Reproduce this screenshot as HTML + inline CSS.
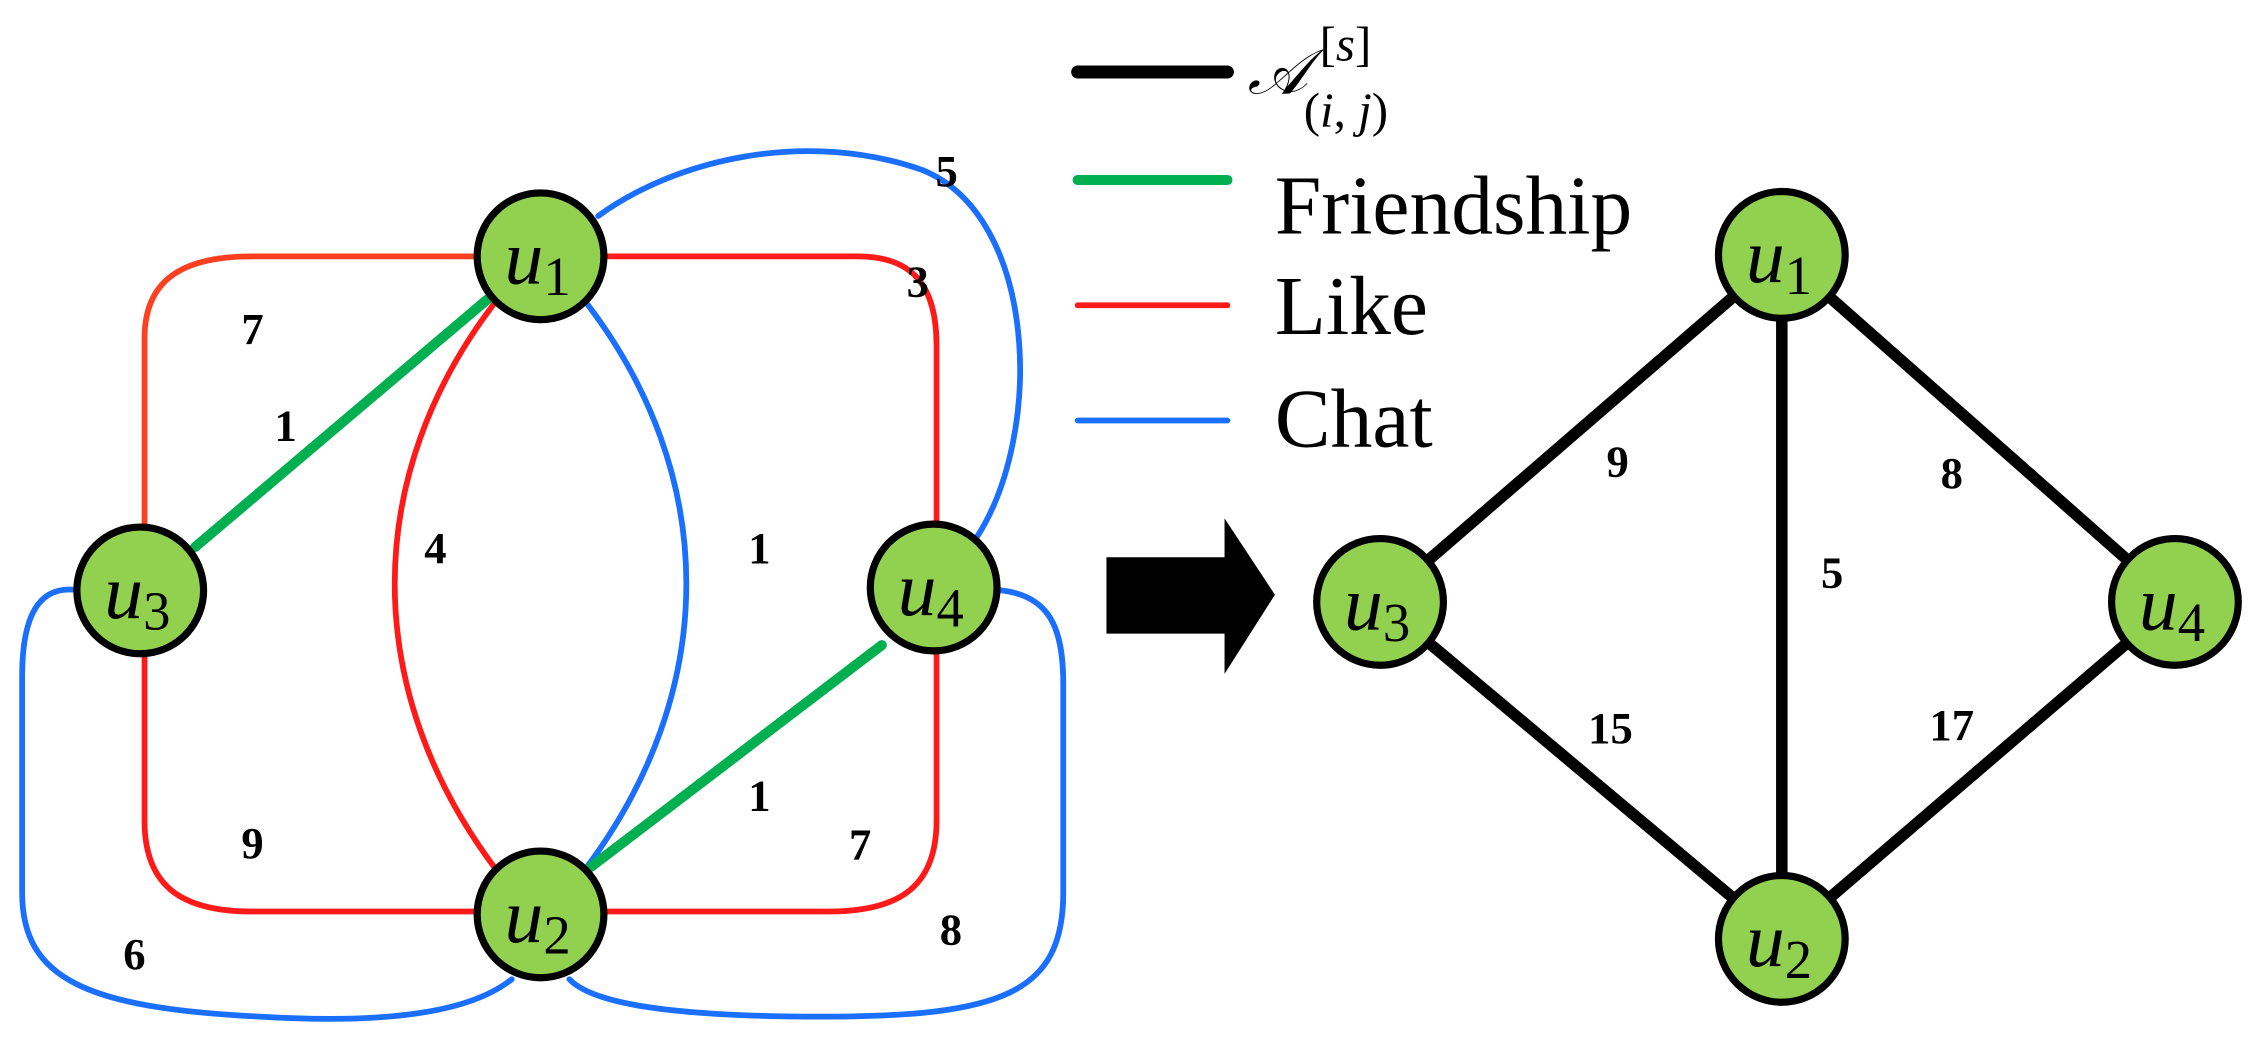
<!DOCTYPE html>
<html><head><meta charset="utf-8"><style>
html,body{margin:0;padding:0;background:#fff;}
svg{display:block;}
text{font-family:"Liberation Serif",serif;}
.w{font-weight:bold;font-size:31px;text-anchor:middle;}
</style></head><body>
<svg width="2259" height="1044" viewBox="0 0 1568 725" xmlns="http://www.w3.org/2000/svg">
<g fill="none" stroke-linecap="round">
<path d="M100,365 L100,235 C100,195 125,178 175,178 L330,178" stroke="#ff4020" stroke-width="4"/>
<path d="M420,178 L595,178 C635,178 650,200 650,240 L650,365" stroke="#ff1a1a" stroke-width="4"/>
<path d="M345,208 C250,330 250,480 345,605" stroke="#ff1a1a" stroke-width="4"/>
<path d="M405,208 C500,330 500,480 405,605" stroke="#1a6fff" stroke-width="4"/>
<path d="M415,150 C470,110 560,90 640,118 C720,150 725,300 678,373" stroke="#1a6fff" stroke-width="4"/>
<path d="M100,455 L100,570 C100,615 125,633 175,633 L330,633" stroke="#ff1a1a" stroke-width="4"/>
<path d="M650,455 L650,570 C650,615 625,633 575,633 L420,633" stroke="#ff1a1a" stroke-width="4"/>
<path d="M55,410 C25,405 15,430 15,470 L15,620 C15,680 60,700 180,706 C280,712 330,700 355,680" stroke="#1a6fff" stroke-width="4"/>
<path d="M695,410 C728,414 738,435 738,475 L738,620 C738,690 695,706 570,706 C460,706 410,696 395,680" stroke="#1a6fff" stroke-width="4"/>
<line x1="338" y1="208" x2="135" y2="380" stroke="#00b050" stroke-width="7"/>
<line x1="410" y1="602" x2="612" y2="448" stroke="#00b050" stroke-width="7"/>
<line x1="1237" y1="177" x2="958" y2="418" stroke="#000" stroke-width="8"/>
<line x1="1237" y1="177" x2="1237" y2="652" stroke="#000" stroke-width="8"/>
<line x1="1237" y1="177" x2="1510" y2="418" stroke="#000" stroke-width="8"/>
<line x1="958" y1="418" x2="1237" y2="652" stroke="#000" stroke-width="8"/>
<line x1="1510" y1="418" x2="1237" y2="652" stroke="#000" stroke-width="8"/>
<line x1="748" y1="50" x2="852" y2="50" stroke="#000" stroke-width="9"/>
<line x1="748" y1="125" x2="852" y2="125" stroke="#00b050" stroke-width="7"/>
<line x1="748" y1="212" x2="852" y2="212" stroke="#ff1a1a" stroke-width="4"/>
<line x1="748" y1="292" x2="852" y2="292" stroke="#1a6fff" stroke-width="4"/>
</g>
<g fill="#92d050" stroke="#000" stroke-width="5">
<circle cx="375" cy="178" r="44"/><circle cx="97" cy="410" r="44"/>
<circle cx="648" cy="408" r="44"/><circle cx="375" cy="635" r="44"/>
<circle cx="1237" cy="177" r="44"/><circle cx="958" cy="418" r="44"/>
<circle cx="1510" cy="418" r="44"/><circle cx="1237" cy="652" r="44"/>
</g>
<g font-size="54" font-style="italic" text-anchor="middle">
<text x="373" y="197">u<tspan font-style="normal" font-size="38" dy="8">1</tspan></text>
<text x="95" y="429">u<tspan font-style="normal" font-size="38" dy="8">3</tspan></text>
<text x="646" y="427">u<tspan font-style="normal" font-size="38" dy="8">4</tspan></text>
<text x="373" y="654">u<tspan font-style="normal" font-size="38" dy="8">2</tspan></text>
<text x="1235" y="196">u<tspan font-style="normal" font-size="38" dy="8">1</tspan></text>
<text x="956" y="437">u<tspan font-style="normal" font-size="38" dy="8">3</tspan></text>
<text x="1508" y="437">u<tspan font-style="normal" font-size="38" dy="8">4</tspan></text>
<text x="1235" y="671">u<tspan font-style="normal" font-size="38" dy="8">2</tspan></text>
</g>
<g>
<text class="w" x="175" y="239">7</text><text class="w" x="198" y="306">1</text>
<text class="w" x="302" y="391">4</text><text class="w" x="527" y="391">1</text>
<text class="w" x="657" y="129">5</text><text class="w" x="637" y="206">3</text>
<text class="w" x="527" y="563">1</text><text class="w" x="597" y="597">7</text>
<text class="w" x="175" y="596">9</text><text class="w" x="93" y="673">6</text>
<text class="w" x="660" y="656">8</text>
<text class="w" x="1123" y="331">9</text><text class="w" x="1355" y="339">8</text>
<text class="w" x="1272" y="408">5</text><text class="w" x="1118" y="516">15</text>
<text class="w" x="1355" y="514">17</text>
</g>
<text x="866" y="65" font-size="44" font-style="italic" font-family="'DejaVu Serif',serif">𝒜</text>
<text x="916" y="42" font-size="34">[<tspan font-style="italic">s</tspan>]</text>
<text x="905" y="88" font-size="34">(<tspan font-style="italic">i</tspan>, <tspan font-style="italic">j</tspan>)</text>
<text x="885" y="162" font-size="58">Friendship</text>
<text x="885" y="232" font-size="58">Like</text>
<text x="885" y="310" font-size="58">Chat</text>
<polygon points="768,387 850,387 850,360 885,413 850,468 850,440 768,440" fill="#000"/>
</svg>
</body></html>
